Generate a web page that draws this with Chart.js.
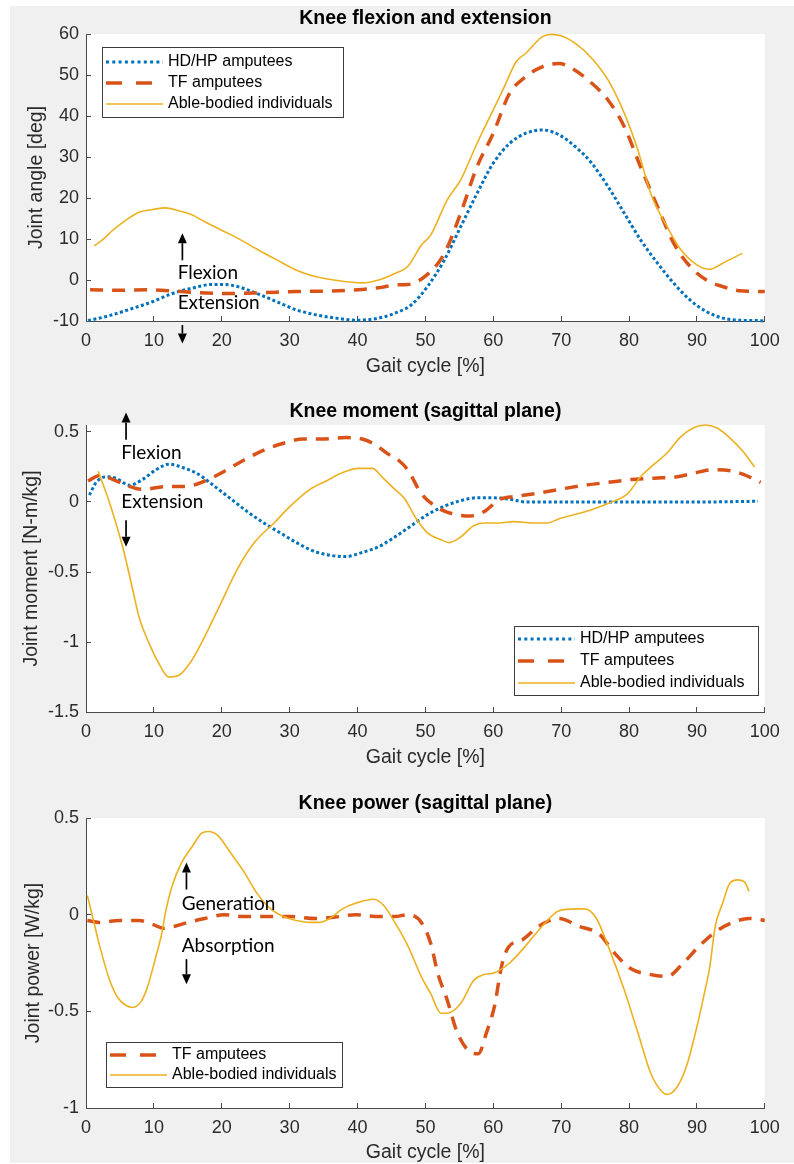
<!DOCTYPE html>
<html>
<head>
<meta charset="utf-8">
<script src="https://cdn.jsdelivr.net/npm/chart.js@4.4.1/dist/chart.umd.min.js"></script>
<style>
  body { margin: 0; background: #fff; }
  #page { position: relative; width: 794px; height: 1164px; overflow: hidden; }
  #backdrop { position: absolute; left: 10px; top: 6px; width: 784px; height: 1157px; background: #f0f0f0; }
  canvas { position: absolute; left: 0; }
</style>
</head>
<body>
<div id="page">
  <div id="backdrop"></div>
  <canvas id="angle" width="794" height="380" style="top:0"></canvas>
  <canvas id="moment" width="794" height="395" style="top:380px"></canvas>
  <canvas id="power" width="794" height="389" style="top:775px"></canvas>
</div>
<script>
// Knee kinematics / kinetics over the gait cycle, three stacked panels.

const AXIS_FONT = "'Liberation Sans', Arial, sans-serif";
const NOTE_FONT = "Lato, 'Open Sans', sans-serif";
const TEXT = '#2b2b2b';
const AXIS_LINE = '#4a4a4a';

// ---- tick labels ----
const gaitTicks = [0, 10, 20, 30, 40, 50, 60, 70, 80, 90, 100];
const angleTicks = [-10, 0, 10, 20, 30, 40, 50, 60];
const momentTicks = [-1.5, -1, -0.5, 0, 0.5];
const powerTicks = [-1, -0.5, 0, 0.5];

// ---- knee flexion / extension angle [deg] ----
const angleGaitHd = [0.3, 3, 6.9, 9.8, 12.7, 15.6, 18.5, 20.4, 22.3, 25.2, 28.1, 31, 33.9, 36.8, 40, 43.1, 45.5, 47.9, 50.3, 52.8, 55.2, 57.6, 60, 62.4, 64.8, 67.2, 69.7, 72.1, 74.5, 76.9, 79.3, 81.7, 84.2, 86.6, 89, 91.4, 93.8, 96.2, 98.9, 100];
const angleHd = [-9.9, -8.9, -6.9, -5.3, -3.3, -2.0, -1.1, -1.1, -1.6, -3.3, -5.3, -7.3, -8.5, -9.3, -9.8, -9.3, -8.1, -6.1, -1.6, 4.9, 13.0, 21.1, 28.5, 33.3, 35.8, 36.6, 35.4, 32.5, 28.5, 22.8, 16.3, 9.8, 4.1, -0.8, -4.9, -7.7, -9.3, -9.8, -9.9, -10];
const angleGaitTf = [0.6, 5, 9.3, 13, 16.5, 21.4, 26, 31, 35.9, 40.7, 43.5, 45.5, 47.4, 49.9, 52.8, 55.2, 57.6, 60, 62.4, 64.8, 67.2, 69.7, 71.6, 74.5, 76.9, 79.3, 81.7, 84.2, 86.6, 89, 91.4, 93.8, 96.2, 100];
const angleTf = [-2.4, -2.5, -2.4, -2.7, -3.1, -3.3, -3.1, -2.8, -2.7, -2.3, -1.8, -1.2, -1.1, 0.8, 6.5, 16.3, 27.6, 35.8, 45.5, 49.6, 52, 52.8, 51.6, 48, 43.9, 37.4, 27.6, 17.9, 8.9, 3.3, 0, -1.6, -2.6, -2.8];
const angleGaitAb = [1.2, 2.5, 4, 5.9, 7.8, 9.8, 11.7, 13.6, 15.6, 17.5, 19.4, 21.4, 23.3, 25.2, 28.1, 31, 33.9, 37.3, 40.7, 43.1, 45.5, 47.4, 49.4, 50.8, 53.2, 55.2, 57.6, 60, 61.4, 63.4, 64.8, 67.2, 68.6, 70.1, 72.1, 74.5, 76.9, 79.3, 81.3, 83.2, 85.6, 87.5, 90, 91.9, 93.8, 96.7];
const angleAb = [8.3, 9.9, 12.2, 14.6, 16.5, 17.2, 17.6, 16.9, 15.9, 14.2, 12.6, 11.0, 9.3, 7.5, 4.9, 2.4, 0.8, -0.2, -0.7, 0, 1.6, 3.3, 8.5, 11.0, 19.5, 24.4, 33.3, 41.5, 46.3, 53.3, 55.3, 59.3, 59.9, 59.5, 57.7, 54.1, 48.8, 40.7, 31.7, 21.1, 13.0, 7.7, 3.7, 2.6, 4.1, 6.5];

// ---- knee moment, sagittal plane [N-m/kg] ----
const momentGaitHd = [0.5, 1.5, 3, 4.4, 6.4, 8.3, 10.3, 12.2, 14.6, 16.5, 19, 21.4, 23.8, 26.2, 28.6, 31, 33.5, 35.9, 38.3, 40.7, 43.1, 45.5, 47.9, 50.3, 52.8, 55.2, 57.6, 60, 62.4, 64.8, 70, 80, 90, 99];
const momentHd = [0.05, 0.14, 0.18, 0.17, 0.12, 0.16, 0.23, 0.27, 0.24, 0.20, 0.11, 0.02, -0.07, -0.15, -0.22, -0.29, -0.35, -0.38, -0.39, -0.36, -0.32, -0.25, -0.17, -0.09, -0.03, 0.01, 0.03, 0.03, 0.02, 0.0, 0, 0, 0, 0.005];
const momentGaitTf = [0.3, 2, 4, 5.9, 8.3, 11.7, 14.6, 17.5, 20.4, 23.3, 26.2, 29.1, 32, 34.9, 38.3, 40.7, 42.6, 44.6, 46, 47.4, 49.4, 51.8, 53.7, 56.6, 58.6, 61, 63.4, 66.3, 69.7, 73.5, 76.9, 80.3, 83.7, 87.1, 89.9, 92.3, 95.3, 97.7, 99.4];
const momentTf = [0.15, 0.19, 0.16, 0.12, 0.09, 0.11, 0.11, 0.15, 0.22, 0.30, 0.37, 0.42, 0.45, 0.45, 0.46, 0.45, 0.41, 0.34, 0.30, 0.23, 0.06, -0.04, -0.08, -0.10, -0.07, 0.02, 0.04, 0.06, 0.09, 0.12, 0.14, 0.16, 0.17, 0.18, 0.21, 0.23, 0.22, 0.18, 0.14];
const momentGaitAb = [1.8, 3.5, 5.4, 6.9, 7.8, 9.3, 10.7, 12.2, 13.6, 15.6, 17.5, 19.9, 22.3, 24.8, 27.7, 30.1, 33, 35.4, 37.8, 40.2, 42.2, 43.6, 45.5, 47, 48.4, 50.3, 52.3, 53.5, 55.2, 57.1, 58.6, 61, 62.9, 65.8, 68, 69.7, 73.5, 76.9, 79.8, 81.7, 83.7, 85.6, 87.5, 89.5, 91.2, 92.9, 94.8, 96.8, 98.5];
const momentAb = [0.22, -0.01, -0.32, -0.63, -0.82, -1.01, -1.15, -1.25, -1.24, -1.13, -0.96, -0.72, -0.48, -0.29, -0.15, -0.03, 0.09, 0.15, 0.21, 0.24, 0.24, 0.18, 0.09, 0.02, -0.10, -0.22, -0.27, -0.29, -0.25, -0.17, -0.15, -0.15, -0.14, -0.15, -0.15, -0.12, -0.07, -0.01, 0.06, 0.18, 0.27, 0.35, 0.46, 0.53, 0.55, 0.53, 0.46, 0.36, 0.25];

// ---- knee power, sagittal plane [W/kg] ----
const powerGaitTf = [0.2, 2, 4.9, 7.8, 9.8, 11.4, 13.1, 15, 17.5, 20.4, 23.3, 26.2, 30, 33.9, 37.3, 39.7, 43.1, 45.5, 47.4, 49.4, 50.8, 51.8, 53.2, 54.7, 56.6, 57.8, 59, 60.2, 61.2, 62.2, 64.3, 66.7, 69.7, 72.6, 75.6, 77.9, 80.3, 83.2, 85.6, 88, 90.4, 92.7, 95.3, 97.7, 100];
const powerTf = [-0.03, -0.04, -0.03, -0.03, -0.05, -0.07, -0.06, -0.04, -0.02, 0.0, -0.01, -0.01, -0.01, -0.02, -0.01, 0.0, -0.01, -0.01, 0.0, -0.04, -0.15, -0.30, -0.44, -0.61, -0.71, -0.72, -0.61, -0.47, -0.27, -0.17, -0.13, -0.06, -0.02, -0.06, -0.10, -0.20, -0.28, -0.31, -0.32, -0.25, -0.16, -0.09, -0.04, -0.02, -0.03];
const powerGaitAb = [0.2, 1.1, 2, 3.5, 4.7, 5.9, 6.9, 8.1, 9, 10.2, 11.2, 11.7, 12.7, 14.1, 15.6, 17, 18, 19.4, 21.3, 23.3, 25.2, 27.2, 29.1, 31, 33, 34.4, 35.9, 37.8, 39.8, 42.4, 43.8, 45.5, 47.4, 49.4, 50.8, 52.3, 53.2, 55.2, 57.1, 58.6, 60.2, 62.4, 64.8, 67.2, 69.7, 72.1, 73.5, 75.2, 76.9, 79.3, 81.3, 83.2, 84.7, 85.6, 87.1, 88.5, 90, 91.2, 91.9, 92.7, 93.8, 94.8, 96, 97, 97.7];
const powerAb = [0.10, -0.03, -0.16, -0.34, -0.43, -0.47, -0.48, -0.45, -0.38, -0.23, -0.09, 0.01, 0.15, 0.27, 0.35, 0.42, 0.43, 0.41, 0.32, 0.22, 0.11, 0.03, -0.01, -0.03, -0.04, -0.04, -0.02, 0.03, 0.06, 0.08, 0.05, -0.04, -0.16, -0.32, -0.41, -0.51, -0.51, -0.46, -0.34, -0.31, -0.30, -0.25, -0.16, -0.06, 0.02, 0.03, 0.03, -0.02, -0.16, -0.39, -0.61, -0.82, -0.91, -0.93, -0.89, -0.78, -0.58, -0.39, -0.27, -0.06, 0.06, 0.16, 0.18, 0.17, 0.12];

// MATLAB default colour order; higher "order" is drawn first
const SERIES_STYLE = {
  hd: { label: 'HD/HP amputees', color: '#0072BD', width: 3, dash: [3, 2.5], legendDash: [3, 3.3], order: 3 },
  tf: { label: 'TF amputees', color: '#D95319', width: 3.5, dash: [13, 9], legendDash: [16, 14], order: 2 },
  ab: { label: 'Able-bodied individuals', color: '#EDB120', width: 1.6, dash: [], legendDash: [], order: 1 },
};

function series(kind, xs, ys) {
  const s = SERIES_STYLE[kind];
  return {
    label: s.label,
    kind,
    data: xs.map((x, i) => ({ x, y: ys[i] })),
    borderColor: s.color,
    borderWidth: s.width,
    borderDash: s.dash,
    borderCapStyle: 'butt',
    pointRadius: 0,
    cubicInterpolationMode: 'monotone',
    fill: false,
    clip: false,
    order: s.order,
  };
}

function arrow(ctx, x, y0, y1) {
  const dir = Math.sign(y1 - y0);
  const head = 10;
  ctx.strokeStyle = '#000';
  ctx.fillStyle = '#000';
  ctx.lineWidth = 1.7;
  ctx.setLineDash([]);
  ctx.beginPath();
  ctx.moveTo(x, y0);
  ctx.lineTo(x, y1 - dir * head);
  ctx.stroke();
  ctx.beginPath();
  ctx.moveTo(x, y1);
  ctx.lineTo(x - 4.5, y1 - dir * head);
  ctx.lineTo(x + 4.5, y1 - dir * head);
  ctx.closePath();
  ctx.fill();
}

// white axes background, bold title, boxed legend, flexion/extension notes
const decor = {
  id: 'decor',
  beforeDraw(chart) {
    const { ctx, chartArea: a } = chart;
    ctx.save();
    ctx.fillStyle = '#fff';
    ctx.fillRect(a.left, a.top, a.width, a.height);
    ctx.restore();
  },
  afterDraw(chart, args, opts) {
    const { ctx, chartArea: a, scales: { x, y } } = chart;
    ctx.save();

    ctx.fillStyle = '#000';
    ctx.font = `bold 19.5px ${AXIS_FONT}`;
    ctx.textAlign = 'center';
    ctx.textBaseline = 'middle';
    ctx.fillText(opts.title, (a.left + a.right) / 2, opts.titleY);

    const note = opts.note;
    const ax = x.getPixelForValue(note.x);
    arrow(ctx, ax, y.getPixelForValue(note.up[0]), y.getPixelForValue(note.up[1]));
    arrow(ctx, ax, y.getPixelForValue(note.down[0]), y.getPixelForValue(note.down[1]));
    ctx.fillStyle = '#000';
    ctx.font = `19px ${NOTE_FONT}`;
    ctx.textAlign = 'left';
    const tx = x.getPixelForValue(note.textX);
    note.texts.forEach(([t, v]) => ctx.fillText(t, tx, y.getPixelForValue(v)));

    const lg = opts.legend;
    const sets = chart.data.datasets;
    ctx.fillStyle = '#fff';
    ctx.fillRect(lg.left, lg.top, lg.width, lg.height);
    ctx.strokeStyle = '#3c3c3c';
    ctx.lineWidth = 1;
    ctx.strokeRect(lg.left + 0.5, lg.top + 0.5, lg.width, lg.height);
    ctx.font = `16px ${AXIS_FONT}`;
    ctx.textAlign = 'left';
    sets.forEach((d, i) => {
      const ry = lg.top + lg.first + i * lg.gap;
      ctx.strokeStyle = d.borderColor;
      ctx.lineWidth = d.borderWidth;
      ctx.setLineDash(SERIES_STYLE[d.kind].legendDash);
      ctx.lineCap = 'butt';
      ctx.beginPath();
      ctx.moveTo(lg.left + 4, ry);
      ctx.lineTo(lg.left + 61, ry);
      ctx.stroke();
      ctx.setLineDash([]);
      ctx.fillStyle = '#000';
      ctx.fillText(d.label, lg.left + 66, ry);
    });
    ctx.restore();
  },
};

function makeScales(p) {
  const border = { display: true, color: AXIS_LINE, width: 1 };
  const grid = { display: true, drawOnChartArea: false, drawTicks: true, tickLength: -5, color: AXIS_LINE, lineWidth: 1 };
  return {
    x: {
      type: 'linear',
      min: 0,
      max: 100,
      afterBuildTicks: s => { s.ticks = gaitTicks.map(v => ({ value: v })); },
      afterFit: s => { s.height = p.xHeight; },
      ticks: { padding: 14.2, color: TEXT, font: { family: AXIS_FONT, size: 18 }, callback: v => String(v), maxRotation: 0, autoSkip: false },
      title: { display: true, text: 'Gait cycle [%]', color: TEXT, font: { family: AXIS_FONT, size: 19.5 }, padding: { top: 0, bottom: p.xTitlePad } },
      border,
      grid,
    },
    y: {
      type: 'linear',
      min: p.yMin,
      max: p.yMax,
      afterBuildTicks: s => { s.ticks = p.yTicks.map(v => ({ value: v })); },
      afterFit: s => { s.width = 86; },
      ticks: { padding: 12, color: TEXT, font: { family: AXIS_FONT, size: 18 }, callback: v => String(v), autoSkip: false },
      title: { display: true, text: p.yTitle, color: TEXT, font: { family: AXIS_FONT, size: 19.5 }, padding: { top: p.yTitlePad, bottom: 0 } },
      border,
      grid,
    },
  };
}

function panel(id, datasets, p, decorOpts) {
  return new Chart(document.getElementById(id), {
    type: 'line',
    data: { datasets },
    options: {
      responsive: false,
      animation: false,
      events: [],
      layout: { padding: { left: 0, right: 18, top: p.top, bottom: 0 } },
      plugins: {
        legend: { display: false },
        title: { display: false },
        tooltip: { enabled: false },
        decor: decorOpts,
      },
      scales: makeScales(p),
    },
    plugins: [decor],
  });
}

panel('angle', [
  series('hd', angleGaitHd, angleHd),
  series('tf', angleGaitTf, angleTf),
  series('ab', angleGaitAb, angleAb),
], { top: 34, xHeight: 59, xTitlePad: 1.6, yMin: -10, yMax: 60, yTicks: angleTicks, yTitle: 'Joint angle [deg]', yTitlePad: 25 }, {
  title: 'Knee flexion and extension',
  titleY: 18.3,
  legend: { left: 102, top: 47, width: 241, height: 70, first: 15, gap: 21 },
  note: { x: 14.2, textX: 13.5, up: [4.8, 11.4], down: [-11, -15.5], texts: [['Flexion', 1.7], ['Extension', -5.6]] },
});

panel('moment', [
  series('hd', momentGaitHd, momentHd),
  series('tf', momentGaitTf, momentTf),
  series('ab', momentGaitAb, momentAb),
], { top: 45, xHeight: 63, xTitlePad: 5.3, yMin: -1.5, yMax: 0.55, yTicks: momentTicks, yTitle: 'Joint moment [N-m/kg]', yTitlePad: 20 }, {
  title: 'Knee moment (sagittal plane)',
  titleY: 31.7,
  legend: { left: 514, top: 246, width: 244, height: 69, first: 13, gap: 22 },
  note: { x: 5.9, textX: 5.2, up: [0.445, 0.64], down: [-0.13, -0.32], texts: [['Flexion', 0.35], ['Extension', 0.0]] },
});

panel('power', [
  series('tf', powerGaitTf, powerTf),
  series('ab', powerGaitAb, powerAb),
], { top: 43, xHeight: 56, xTitlePad: 0, yMin: -1, yMax: 0.5, yTicks: powerTicks, yTitle: 'Joint power [W/kg]', yTitlePad: 21.6 }, {
  title: 'Knee power (sagittal plane)',
  titleY: 29,
  legend: { left: 106, top: 267, width: 236, height: 45, first: 13, gap: 20 },
  note: { x: 14.8, textX: 14.1, up: [0.13, 0.27], down: [-0.23, -0.36], texts: [['Generation', 0.057], ['Absorption', -0.16]] },
});
</script>
</body>
</html>
